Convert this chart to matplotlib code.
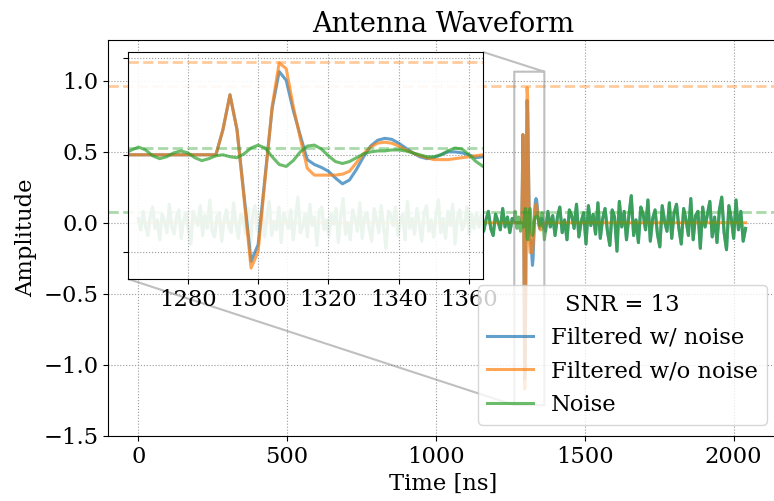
import numpy as np
import matplotlib
matplotlib.use('Agg')
import matplotlib.pyplot as plt

plt.rcParams['font.family'] = 'serif'
plt.rcParams['font.size'] = 16.3

# noise, every 8 ns from 0 to 2040 ns (window 1264..1360 comes from the fine arrays)
noise_coarse = [
    0.03, -0.05, 0.08, -0.02, -0.09, 0.05, 0.11, -0.04, 0.02, -0.12, 0.06, 0.01, -0.07, 0.13, -0.03, -0.08,
    0.04, 0.09, -0.11, 0.02, 0.07, -0.05, -0.15, 0.08, 0.03, -0.02, 0.12, -0.09, 0.05, -0.04, 0.16, -0.06,
    -0.10, 0.04, 0.07, -0.13, 0.02, 0.09, -0.03, -0.07, 0.14, -0.01, -0.11, 0.06, 0.03, -0.08, 0.10, -0.17,
    0.05, 0.12, -0.06, -0.02, 0.08, -0.10, 0.04, 0.15, -0.09, 0.01, -0.05, 0.11, -0.14, 0.07, 0.02, -0.04,
    0.09, -0.12, 0.03, 0.18, -0.07, -0.03, 0.06, -0.10, 0.13, -0.02, 0.04, -0.16, 0.08, 0.11, -0.05, 0.02,
    -0.09, 0.06, -0.01, 0.10, -0.14, 0.05, 0.17, -0.08, 0.00, -0.12, 0.09, 0.03, -0.06, 0.14, -0.11, 0.04,
    0.07, -0.05, -0.13, 0.10, 0.02, -0.07, 0.12, -0.03, -0.18, 0.08, 0.05, -0.02, 0.11, -0.09, 0.01, 0.06,
    -0.12, 0.15, -0.04, 0.03, -0.08, 0.10, -0.01, -0.13, 0.07, 0.12, -0.06, 0.02, -0.10, 0.05, 0.16, -0.07,
    0.03, -0.11, 0.08, -0.02, 0.13, -0.15, 0.04, 0.09, -0.05, -0.01, 0.11, -0.08, 0.06, -0.04, 0.07, -0.03,
    0.05, -0.06, 0.02, 0.08, -0.04, -0.09, 0.06, 0.01, -0.05, 0.10, -0.03, 0.04, -0.07, 0.03, 0.00, 0.00,
    0.00, 0.00, 0.00, 0.00, 0.00, 0.00, 0.00, 0.00, 0.00, 0.00, 0.00, -0.06, 0.08, -0.03, 0.05, -0.09,
    0.04, 0.11, -0.07, 0.02, -0.12, 0.09, 0.05, -0.04, 0.13, -0.10, 0.01, 0.07, -0.15, 0.12, -0.02, 0.06,
    -0.08, 0.14, -0.11, 0.03, 0.10, -0.06, -0.16, 0.09, 0.04, -0.20, 0.15, -0.03, 0.08, -0.12, 0.05, 0.19,
    -0.09, 0.02, -0.14, 0.11, 0.06, -0.05, 0.16, -0.13, 0.03, 0.09, -0.08, -0.17, 0.12, 0.01, -0.06, 0.14,
    -0.11, 0.07, 0.13, -0.04, -0.15, 0.10, 0.02, -0.09, 0.17, -0.12, 0.05, 0.08, -0.18, 0.11, -0.03, 0.06,
    0.15, -0.10, 0.04, -0.14, 0.09, 0.18, -0.07, -0.19, 0.12, 0.03, -0.11, 0.16, -0.05, 0.08, -0.13, -0.04,
]
t_coarse = np.arange(0, 2048, 8)

# around the pulse, every 2 ns from 1262 to 1364 ns
t_fine = np.arange(1262, 1366, 2)
sig_clean = [0, 0, 0, 0, 0, 0, 0, 0, 0, 0, 0, 0, 0, 0,
             0.26, 0.62, 0.26, -0.45, -1.17, -1.00, -0.25, 0.50, 0.95, 0.89,
             0.50, 0.17, -0.14, -0.21, -0.21, -0.21, -0.21, -0.20, -0.17, -0.08,
             0.01, 0.08, 0.12, 0.13, 0.12, 0.09, 0.05, 0.02, -0.01, -0.03,
             -0.05, -0.05, -0.05, -0.04, -0.03, -0.02, -0.01, 0.00]
sig_noisy = [0, 0, 0, 0, 0, 0, 0, 0, 0, 0, 0, 0, 0, 0,
             0.26, 0.62, 0.26, -0.42, -1.10, -0.93, -0.22, 0.48, 0.86, 0.77,
             0.46, 0.20, -0.05, -0.10, -0.13, -0.17, -0.24, -0.30, -0.26, -0.15,
             -0.02, 0.09, 0.15, 0.17, 0.16, 0.12, 0.07, 0.02, -0.02, -0.04,
             -0.03, 0.00, 0.03, 0.03, 0.02, 0.00, -0.03, -0.02]
noise_fine = [0.01, 0.05, 0.08, 0.05, -0.01, -0.04, -0.02, 0.02, 0.04, 0.02, -0.03, -0.06, -0.04, -0.01,
              0.00, -0.02, -0.03, 0.01, 0.07, 0.10, 0.07, -0.02, -0.10, -0.12,
              -0.06, 0.03, 0.09, 0.10, 0.06, -0.01, -0.07, -0.09, -0.07, -0.03,
              0.01, 0.03, 0.04, 0.04, 0.05, 0.05, 0.04, 0.02, 0.00, -0.02,
              -0.02, 0.00, 0.04, 0.07, 0.06, 0.00, -0.07, -0.12]
inset_xticks = [1280, 1300, 1320, 1340, 1360]

peak_level = 0.961
noise_level = 0.073
snr = 13

# full series: coarse outside the window, fine inside
noise_coarse = np.array(noise_coarse)
left = t_coarse < t_fine[0]
right = t_coarse > t_fine[-1]
t_all = np.concatenate([t_coarse[left], t_fine, t_coarse[right]])
noisy_all = np.concatenate([noise_coarse[left], sig_noisy, noise_coarse[right]])
clean_all = np.concatenate([np.zeros(left.sum()), sig_clean, np.zeros(right.sum())])
noise_all = np.concatenate([noise_coarse[left], noise_fine, noise_coarse[right]])

c_blue, c_orange, c_green = '#1f77b4', '#ff7f0e', '#2ca02c'

fig = plt.figure(figsize=(7.74, 5.01), dpi=100)
ax = fig.add_axes([108 / 774, 65 / 501, 670 / 774, 396 / 501])

ax.plot(t_all, noisy_all, color=c_blue, lw=2.2, alpha=0.7, label='Filtered w/ noise')
ax.plot(t_all, clean_all, color=c_orange, lw=2.2, alpha=0.7, label='Filtered w/o noise')
ax.plot(t_all, noise_all, color=c_green, lw=2.2, alpha=0.7, label='Noise')
ax.axhline(peak_level, color=c_orange, ls='--', lw=2, alpha=0.4)
ax.axhline(noise_level, color=c_green, ls='--', lw=2, alpha=0.4)
ax.set_xlim(-102, 2149)
ax.set_ylim(-1.5, 1.285)
ax.grid(True, ls=':', color='0.6')
ax.set_title('Antenna Waveform', fontsize='large')
ax.set_xlabel('Time [ns]')
ax.set_ylabel('Amplitude')
ax.legend(loc='lower right', title='SNR = %d' % snr)

# zoomed inset
axins = ax.inset_axes([0.0299, 0.3965, 0.5299, 0.5732])
axins.set_facecolor((1, 1, 1, 0.9))
axins.plot(t_fine, sig_noisy, color=c_blue, lw=2.2, alpha=0.7)
axins.plot(t_fine, sig_clean, color=c_orange, lw=2.2, alpha=0.7)
axins.plot(t_fine, noise_fine, color=c_green, lw=2.2, alpha=0.7)
axins.axhline(peak_level, color=c_orange, ls='--', lw=2, alpha=0.4)
axins.axhline(noise_level, color=c_green, ls='--', lw=2, alpha=0.4)
axins.set_xlim(1263, 1364)
axins.set_ylim(-1.283, 1.062)
axins.set_xticks(inset_xticks)
axins.set_yticks([-1, 0, 1])
axins.set_yticklabels([])
axins.grid(True, ls=':', color='0.6')
ind = ax.indicate_inset_zoom(axins, edgecolor='0.5', lw=1.5)
for c, vis in zip(ind.connectors, [True, False, False, True]):
    c.set_visible(vis)

fig.savefig('out.png', dpi=100)
